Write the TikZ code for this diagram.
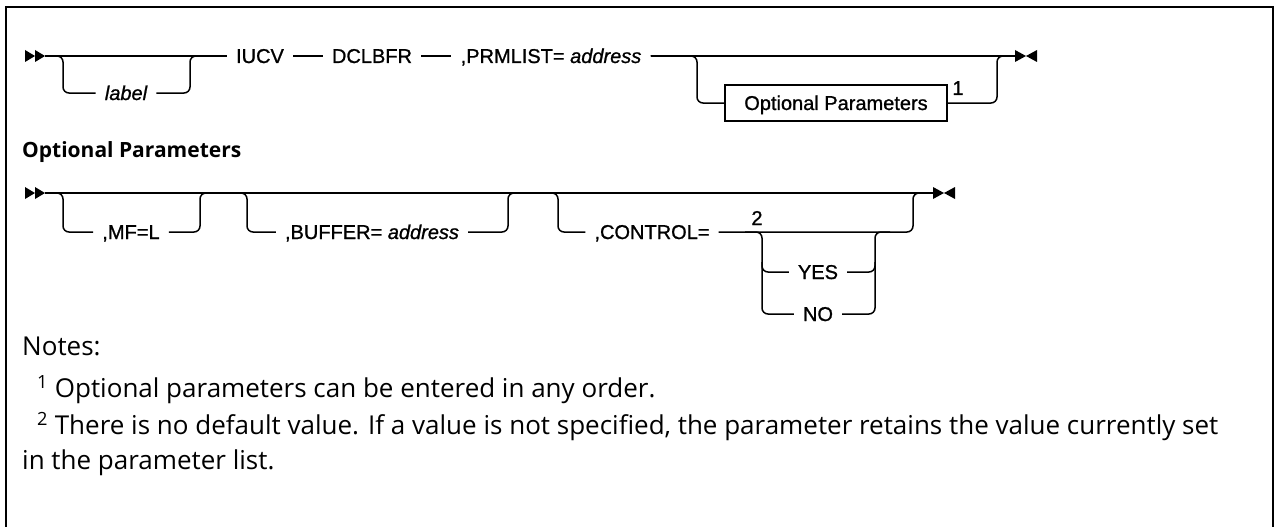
\documentclass[tikz,border=0pt]{standalone}
\usepackage{fontspec}
\setmainfont{Open Sans}
\newfontfamily\railfont[FakeBold=1]{Liberation Sans}
\usetikzlibrary{positioning}

\begin{document}
\begin{tikzpicture}[x=1pt,y=-1pt]
\tikzset{
  rail/.style={line width=1.5pt,rounded corners=6pt},
  kw/.style={font=\railfont\fontsize{20}{24}\selectfont,inner xsep=9pt,inner ysep=2pt,text height=14pt,text depth=0pt},
  frag/.style={kw,draw,line width=1.5pt,minimum width=222pt,minimum height=36pt},
  note/.style={font=\fontsize{26}{31}\selectfont,anchor=west,inner sep=0pt},
  tipfill/.style={fill=black}
}
\useasboundingbox (0,0) rectangle (1274,527);
\draw[line width=2pt] (6,527) -- (6,7) -- (1273,7) -- (1273,527);

% Zeile 1: IUCV DCLBFR
\node (lbl) at (126,93) [kw] {\itshape label};
\node (iucv) at (260,56) [kw] {IUCV};
\node (dcl) at (372,56) [kw] {DCLBFR};
\node (prm) at (551,56) [kw] {,PRMLIST= \textit{address}};
\node (opt) at (836,103) [frag] {Optional Parameters};
\node (ref1) at (958,88) [kw,inner xsep=0pt] {1};

\fill[tipfill] (25,50) -- (35,56) -- (25,62) -- cycle;
\fill[tipfill] (35,50) -- (45,56) -- (35,62) -- cycle;
\fill[tipfill] (1015,50) -- (1026,56) -- (1015,62) -- cycle;
\fill[tipfill] (1037,50) -- (1026,56) -- (1037,62) -- cycle;

\draw[rail] (45,56) -- (iucv);
\draw[rail] (45,56) -- (63,56) -- (63,93) -- (lbl);
\draw[rail] (lbl) -- (190,93) -- (190,56) -- (200,56);
\draw[rail] (iucv) -- (dcl);
\draw[rail] (dcl) -- (prm);
\draw[rail] (prm) -- (1015,56);
\draw[rail] (prm.east) -- (697,56) -- (697,103) -- (opt);
\draw[rail] (opt) -- (997,103) -- (997,56) -- (1008,56);

% Optional Parameters
\node (hdr) at (22,152) [anchor=west,inner sep=0pt,font=\bfseries\fontsize{21}{25}\selectfont] {Optional Parameters};

\node (mf) at (131,232) [kw] {,MF=L};
\node (buf) at (372,232) [kw] {,BUFFER= \textit{address}};
\node (ctl) at (652,232) [kw] {,CONTROL=};
\node (ref2) at (757,218) [kw,inner xsep=0pt] {2};
\node (yes) at (818,272) [kw] {YES};
\node (no) at (818,314) [kw] {NO};

\fill[tipfill] (25,187) -- (35,193) -- (25,199) -- cycle;
\fill[tipfill] (35,187) -- (45,193) -- (35,199) -- cycle;
\fill[tipfill] (933,187) -- (944,193) -- (933,199) -- cycle;
\fill[tipfill] (955,187) -- (944,193) -- (955,199) -- cycle;

\draw[rail] (45,193) -- (933,193);
\draw[rail] (45,193) -- (63,193) -- (63,232) -- (mf);
\draw[rail] (mf) -- (200,232) -- (200,193) -- (210,193);
\draw[rail] (235,193) -- (247,193) -- (247,232) -- (buf);
\draw[rail] (buf) -- (508,232) -- (508,193) -- (518,193);
\draw[rail] (545,193) -- (558,193) -- (558,232) -- (ctl);
\draw[rail] (ctl) -- (913,232) -- (913,193) -- (925,193);
\draw[rail] (745,232) -- (762,232) -- (762,314) -- (no);
\draw[rail] (762,262) -- (762,272) -- (yes);
\draw[rail] (no) -- (875,314) -- (875,232) -- (890,232);
\draw[rail] (yes) -- (875,272) -- (875,262);

% Notes
\node (notes) at (22,346) [note] {Notes:};
\node (n1) at (37,390) [note] {\textsuperscript{1} Optional parameters can be entered in any order.};
\node (n2) at (37,427) [note] {\textsuperscript{2} There is no default value. If a value is not specified, the parameter retains the value currently set};
\node (n3) at (22,463) [note] {in the parameter list.};

\end{tikzpicture}
\end{document}
